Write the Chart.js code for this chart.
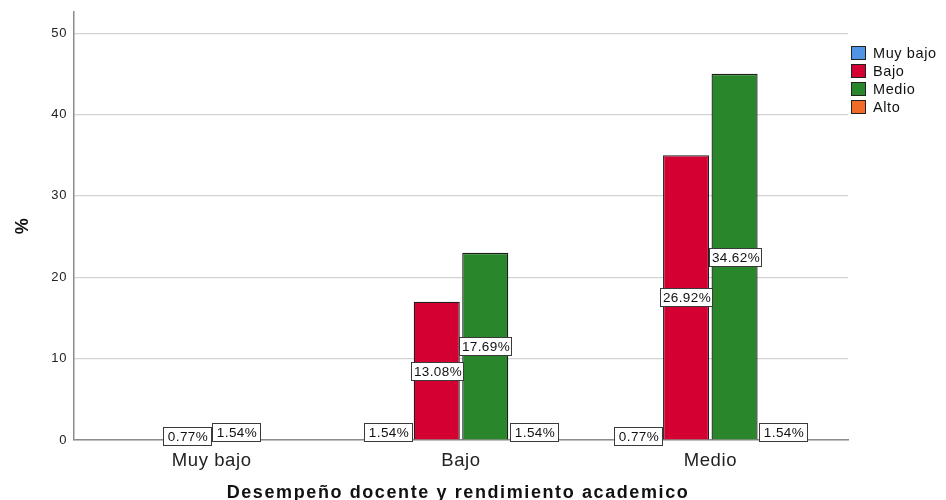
<!DOCTYPE html>
<html>
<head>
<meta charset="utf-8">
<script src="https://cdn.jsdelivr.net/npm/chart.js@4"></script>
<style>
  html, body { margin: 0; padding: 0; background: #fff; }
  #wrap { width: 946px; height: 500px; position: relative; }
</style>
</head>
<body>
<div id="wrap"><canvas id="barChart"></canvas></div>
<script>
// Data (bar heights as drawn, labels as printed on the bars)
const categories = ['Muy bajo', 'Bajo', 'Medio'];
const seriesNames = ['Muy bajo', 'Bajo', 'Medio', 'Alto'];
const seriesColors = ['#5095e3', '#d50032', '#2a862a', '#f06a28'];
const muyBajoValues = [0, 2, 1];
const bajoValues = [1, 17, 35];
const medioValues = [2, 23, 45];
const altoValues = [0, 2, 2];
const muyBajoLabels = ['', '1.54%', '0.77%'];
const bajoLabels = ['0.77%', '13.08%', '26.92%'];
const medioLabels = ['1.54%', '17.69%', '34.62%'];
const altoLabels = ['', '1.54%', '1.54%'];
const yTicks = [0, 10, 20, 30, 40, 50];
const xTitle = 'Desempeño docente y rendimiento academico';

const allValues = [muyBajoValues, bajoValues, medioValues, altoValues];
const allLabels = [muyBajoLabels, bajoLabels, medioLabels, altoLabels];
const fontFamily = '"Liberation Sans", Arial, sans-serif';

// pull the outer categories a bit inward, like the original
const insetPlugin = {
    id: 'inset',
    afterLayout(chart) {
        const x = chart.scales.x;
        x._startPixel += 13;
        x._length -= 26;
    },
    beforeDraw(chart) {
        // the original text is a little wider spaced
        chart.ctx.letterSpacing = '0.6px';
    }
};

// boxed value labels in the middle of each bar
const boxLabels = {
    id: 'boxLabels',
    afterDatasetsDraw(chart) {
        const ctx = chart.ctx;
        ctx.save();
        ctx.font = '13.5px ' + fontFamily;
        ctx.letterSpacing = '0.4px';
        ctx.textAlign = 'center';
        ctx.textBaseline = 'middle';
        chart.data.datasets.forEach((ds, i) => {
            const meta = chart.getDatasetMeta(i);
            meta.data.forEach((bar, j) => {
                const text = allLabels[i][j];
                if (!text) return;
                const w = Math.max(48, Math.round(ctx.measureText(text).width + 4));
                const h = 18;
                const cx = Math.round(bar.x);
                const cy = Math.round((bar.y + bar.base) / 2);
                const left = cx - Math.round(w / 2);
                ctx.fillStyle = '#ffffff';
                ctx.fillRect(left, cy - h / 2, w, h);
                ctx.strokeStyle = '#3a3a3a';
                ctx.lineWidth = 1;
                ctx.strokeRect(left + 0.5, cy - h / 2 + 0.5, w, h);
                ctx.fillStyle = '#111';
                ctx.fillText(text, cx + 1, cy + 1);
            });
        });
        ctx.restore();
    }
};

// legend on the right side and the x axis title
const sideLegend = {
    id: 'sideLegend',
    afterDraw(chart) {
        const ctx = chart.ctx;
        ctx.save();
        ctx.font = '14.5px ' + fontFamily;
        ctx.letterSpacing = '0.6px';
        ctx.textBaseline = 'middle';
        chart.data.datasets.forEach((ds, i) => {
            const y = 53 + i * 18;
            ctx.fillStyle = ds.backgroundColor;
            ctx.fillRect(851, y - 7, 15, 14);
            ctx.strokeStyle = '#222';
            ctx.lineWidth = 1;
            ctx.strokeRect(851.5, y - 6.5, 14, 13);
            ctx.fillStyle = '#111';
            ctx.fillText(ds.label, 873, y + 1);
        });

        ctx.font = 'bold 18px ' + fontFamily;
        ctx.letterSpacing = '1.6px';
        ctx.textAlign = 'center';
        ctx.fillText(xTitle, 458, 493);
        ctx.restore();
    }
};

const ctx = document.getElementById('barChart').getContext('2d');
const barChart = new Chart(ctx, {
    type: 'bar',
    data: {
        labels: categories,
        datasets: seriesNames.map((name, i) => ({
            label: name,
            data: allValues[i],
            backgroundColor: seriesColors[i],
            borderColor: '#1e1e1e',
            borderWidth: 1.3,
            categoryPercentage: 0.778,
            barPercentage: 0.95
        }))
    },
    options: {
        responsive: true,
        maintainAspectRatio: false,
        animation: false,
        layout: { padding: { left: 0, right: 98, top: 12, bottom: 0 } },
        plugins: {
            legend: { display: false },
            tooltip: { enabled: false }
        },
        scales: {
            x: {
                offset: true,
                grid: { display: false },
                border: { display: true, color: '#8c8c8c', width: 1.5 },
                ticks: {
                    color: '#222',
                    padding: 2,
                    font: { family: fontFamily, size: 18.5 }
                },
                afterFit(scale) { scale.height = 60; }
            },
            y: {
                min: 0,
                max: 52.6,
                grid: { color: '#d3d3d3', lineWidth: 1.2, drawTicks: false },
                border: { display: true, color: '#8c8c8c', width: 1.5 },
                ticks: {
                    color: '#222',
                    padding: 7,
                    font: { family: fontFamily, size: 13 }
                },
                afterBuildTicks(scale) {
                    scale.ticks = yTicks.map(v => ({ value: v }));
                },
                title: {
                    display: true,
                    text: '%',
                    color: '#111',
                    padding: { top: 12, bottom: 0 },
                    font: { family: fontFamily, size: 18, weight: 'bold' }
                },
                afterFit(scale) {
                    scale.width = 74;
                    scale.paddingTop = 0;
                    scale.paddingBottom = 0;
                }
            }
        }
    },
    plugins: [insetPlugin, boxLabels, sideLegend]
});
</script>
</body>
</html>
